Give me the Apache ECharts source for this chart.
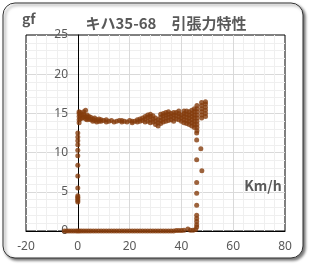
<!DOCTYPE html>
<html>
<head>
<meta charset="utf-8">
<script src="https://cdn.jsdelivr.net/npm/echarts@6/dist/echarts.min.js"></script>
<style>
  html, body { margin: 0; padding: 0; background: #fff; }
  #main { width: 312px; height: 268px; }
</style>
</head>
<body>
<div id="main"></div>
<script>
// x: speed (Km/h), y: tractive force (gf)
const xTicks = [-20, 0, 20, 40, 60, 80]
const yTicks = [0, 5, 10, 15, 20, 25]

// standstill, force building up at 0 km/h
const startUp = [
  [0, 0], [0, 3.7], [0, 3.9], [0, 4.1], [0, 4.3], [0, 4.5], [0, 5.5], [0, 7.0],
  [0, 8.4], [0, 9.6], [0, 10.3], [0, 11.0], [0, 11.5], [0, 12.0], [0, 12.5]
]

// zero force points along the speed axis
const coasting = [
  [-5.2, 0], [-4.3, 0], [-3.4, 0], [-2.5, 0], [-1.6, 0], [-0.7, 0], [0.6, 0],
  [1.4, 0], [2.3, 0], [3.2, 0], [4.1, 0], [5.0, 0], [6.0, 0], [7.0, 0], [8.0, 0],
  [9.0, 0], [10.0, 0], [11.0, 0], [12.0, 0], [13.0, 0], [14.0, 0], [15.0, 0],
  [16.0, 0], [17.0, 0], [18.0, 0], [19.0, 0], [20.0, 0], [21.0, 0], [22.0, 0],
  [23.0, 0], [24.0, 0], [25.0, 0], [26.0, 0], [27.0, 0], [28.0, 0], [29.0, 0],
  [30.0, 0], [31.0, 0], [32.0, 0], [33.0, 0], [34.0, 0], [35.0, 0], [36.0, 0],
  [37.0, 0], [38.0, 0.05], [39.0, 0.05], [40.0, 0.05], [41.0, 0.1], [42.5, 0.25],
  [43.5, 0.1], [44.5, 0.1], [45.5, 0.2]
]

// notch-off drop at ~46 km/h
const notchOff = [
  [45.9, 0.5], [45.9, 0.8], [45.9, 1.2], [45.9, 1.6], [45.9, 2.0], [45.9, 3.3],
  [45.9, 4.8], [45.9, 6.2], [47.9, 7.7], [45.9, 9.1], [47.5, 10.5], [45.9, 11.6],
  [45.9, 12.5]
]

// full notch traction band
const traction = [
  [0.5, 13.8], [0.5, 14.2], [0.5, 14.6], [0.5, 15.0], [0.5, 15.2],
  [1.0, 14.3], [1.0, 14.7], [1.0, 15.1],
  [1.6, 14.4], [1.6, 14.8],
  [2.3, 14.5], [2.3, 14.9], [2.3, 15.2],
  [3.0, 14.3], [3.0, 14.6], [3.0, 15.4],
  [3.6, 14.2], [3.6, 14.5], [3.6, 14.8],
  [4.3, 14.3], [4.3, 14.6],
  [5.0, 14.2], [5.0, 14.5],
  [5.8, 14.0], [5.8, 14.3],
  [6.5, 14.1], [6.5, 14.4],
  [7.3, 13.9], [7.3, 14.2],
  [8.2, 14.0], [8.2, 14.3],
  [9.0, 14.0], [9.0, 14.2],
  [10, 14.1], [11, 13.9], [11, 14.2], [12, 14.0], [13, 14.1], [14, 13.9],
  [15, 14.0], [16, 14.1], [17, 13.9], [17, 14.1], [18, 14.0], [19, 13.9],
  [20, 14.1], [21, 13.8], [21, 14.0], [22, 14.0], [23, 13.9], [23, 14.2],
  [24, 14.0], [24, 14.3], [25, 14.1], [25, 14.4],
  [26, 13.9], [26, 14.3], [26, 14.6],
  [27, 14.0], [27, 14.5], [27, 14.8],
  [28, 13.8], [28, 14.2], [28, 14.6], [28, 14.9],
  [29, 13.9], [29, 14.3], [29, 14.7],
  [30, 13.6], [30, 14.0], [30, 14.4],
  [31, 13.4], [31, 13.8], [31, 14.2],
  [32, 13.7], [32, 14.1], [32, 14.5], [32, 14.9],
  [33, 13.9], [33, 14.3], [33, 14.7], [33, 15.0],
  [34, 14.0], [34, 14.4], [34, 14.8], [34, 15.1],
  [35, 14.1], [35, 14.5], [35, 14.9], [35, 15.2],
  [36, 14.2], [36, 14.6], [36, 15.0],
  [37, 14.0], [37, 14.4], [37, 14.8], [37, 15.1],
  [38, 14.3], [38, 14.7], [38, 15.1],
  [39, 14.2], [39, 14.6], [39, 15.0], [39, 15.3],
  [40, 14.0], [40, 14.4], [40, 14.8],
  [41, 13.8], [41, 14.2], [41, 14.6], [41, 15.0], [41, 15.3],
  [42, 13.7], [42, 14.1], [42, 14.5], [42, 14.9], [42, 15.3],
  [43, 13.6], [43, 14.0], [43, 14.4], [43, 14.8], [43, 15.2],
  [44, 13.4], [44, 13.8], [44, 14.2], [44, 14.6], [44, 15.0], [44, 15.4],
  [45, 13.2], [45, 13.6], [45, 14.0], [45, 14.4], [45, 14.8], [45, 15.2], [45, 15.6],
  [46, 12.8], [46, 13.2], [46, 13.6], [46, 14.0], [46, 14.4], [46, 14.8], [46, 15.2], [46, 15.6], [46, 16.0],
  [47.8, 14.4], [47.8, 14.8], [47.8, 15.2], [47.8, 15.6], [47.8, 16.0], [47.8, 16.4],
  [49.3, 14.6], [49.3, 15.0], [49.3, 15.4], [49.3, 15.8], [49.3, 16.2], [49.3, 16.5]
]

const chart = echarts.init(document.getElementById('main'))
const gray = '#595959'
const brown = '#843C0C'

chart.setOption({
  animation: false,
  graphic: [
    {
      type: 'rect', z: -10, silent: true,
      shape: { x: 3, y: 3, width: 300, height: 255, r: 12 },
      style: {
        fill: '#fff', stroke: '#333', lineWidth: 1,
        shadowColor: 'rgba(0,0,0,0.55)', shadowBlur: 3, shadowOffsetX: 2, shadowOffsetY: 2
      }
    },
    {
      type: 'text', x: 22, y: 19, z: 100,
      style: { text: 'gf', fill: gray, font: 'bold 14px "Noto Sans CJK JP"', textVerticalAlign: 'middle' }
    },
    {
      type: 'text', x: 166, y: 23, z: 100,
      style: { text: 'キハ35-68　引張力特性', fill: gray, font: 'bold 15px "Noto Sans CJK JP"', textAlign: 'center', textVerticalAlign: 'middle' }
    },
    {
      type: 'text', x: 263, y: 186, z: 100,
      style: { text: 'Km/h', fill: gray, font: 'bold 14px "Noto Sans CJK JP"', textAlign: 'center', textVerticalAlign: 'middle' }
    }
  ],
  grid: {
    left: 26, right: 27, top: 35, bottom: 37,
    show: true, borderColor: '#000', borderWidth: 1, backgroundColor: 'transparent'
  },
  xAxis: {
    type: 'value',
    min: xTicks[0], max: xTicks[xTicks.length - 1], interval: 20,
    axisLine: { lineStyle: { color: '#000' } },
    axisTick: { show: false },
    axisLabel: { color: gray, fontSize: 12, margin: 10, fontFamily: 'Noto Sans' },
    splitLine: { showMinLine: false, showMaxLine: false, lineStyle: { color: '#d9d9d9' } },
    minorTick: { show: false, splitNumber: 5 },
    minorSplitLine: { show: true, lineStyle: { color: '#efefef' } }
  },
  yAxis: {
    type: 'value',
    min: yTicks[0], max: yTicks[yTicks.length - 1], interval: 5,
    offset: -52,
    axisLine: { show: true, onZero: false, lineStyle: { color: '#000' } },
    axisTick: { show: false },
    axisLabel: { color: gray, fontSize: 12, margin: 10, fontFamily: 'Noto Sans' },
    splitLine: { showMinLine: false, showMaxLine: false, lineStyle: { color: '#d9d9d9' } },
    minorTick: { show: false, splitNumber: 5 },
    minorSplitLine: { show: true, lineStyle: { color: '#efefef' } }
  },
  series: [{
    type: 'scatter',
    symbol: 'circle',
    symbolSize: 5,
    itemStyle: { color: brown },
    data: [].concat(startUp, coasting, notchOff, traction)
  }]
})
</script>
</body>
</html>
